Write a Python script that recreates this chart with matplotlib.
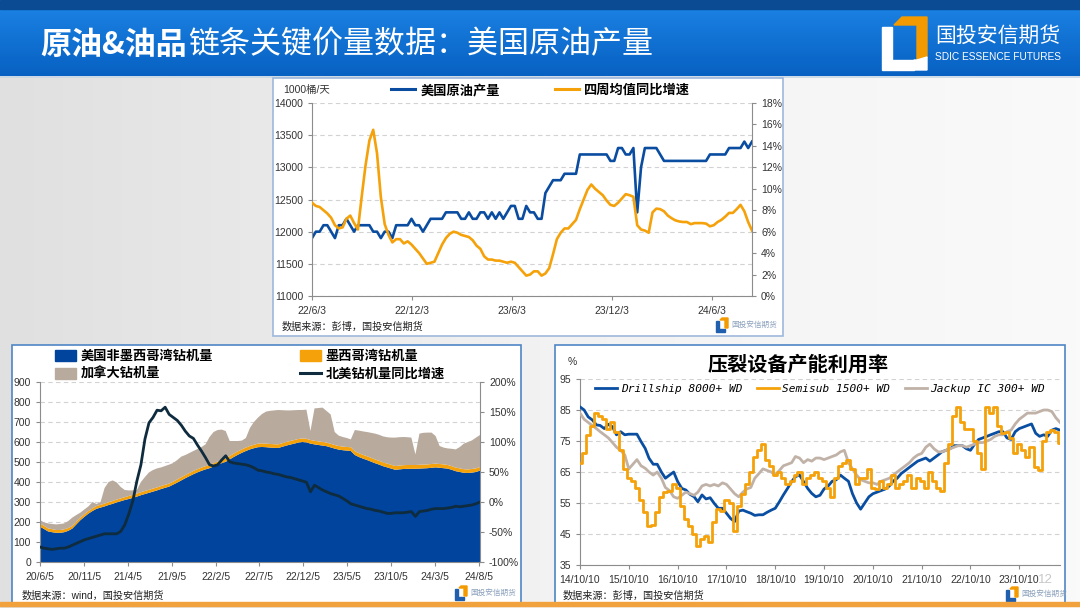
import numpy as np
import pandas as pd
import matplotlib
matplotlib.use("Agg")
import matplotlib.pyplot as plt
from matplotlib.patches import Rectangle, Polygon, Patch
from matplotlib.lines import Line2D
from matplotlib.colors import LinearSegmentedColormap

plt.rcParams['font.family'] = ['Liberation Sans', 'Noto Sans CJK SC', 'DejaVu Sans']
CJK = ['Noto Sans CJK SC', 'DejaVu Sans']

# ---------------- top chart: US crude output (weekly from 2022-06-03) ----------------
prod_start = '2022-06-03'
us_output = [11900,12000,12000,12100,12100,12000,11900,12100,12100,12200,
             12100,12000,12100,12100,12100,12100,12000,12000,11900,12000,
             12000,11900,12100,12100,12100,12100,12200,12100,12100,12000,
             12100,12200,12200,12200,12200,12300,12300,12300,12300,12200,
             12200,12300,12200,12200,12300,12300,12200,12300,12200,12300,
             12200,12300,12400,12400,12200,12200,12400,12300,12300,12200,
             12200,12600,12700,12800,12800,12800,12900,12900,12900,12900,
             13200,13200,13200,13200,13200,13200,13200,13200,13100,13100,
             13300,13300,13200,13200,13300,12300,13000,13300,13300,13300,
             13300,13200,13100,13100,13100,13100,13100,13100,13100,13100,
             13100,13100,13100,13100,13200,13200,13200,13200,13200,13300,
             13300,13300,13300,13400,13300,13400]
output_yoy = [8.7,8.4,8.3,8.0,7.7,7.3,6.6,6.3,6.4,7.2,
              7.5,6.8,6.2,9.3,12.2,14.5,15.5,13.3,9.2,6.7,
              5.7,5.0,5.3,5.3,4.9,5.1,4.8,4.4,4.0,3.5,
              3.0,3.1,3.2,4.0,4.8,5.4,5.8,6.0,5.9,5.7,
              5.6,5.5,5.2,4.7,4.4,3.7,3.4,3.4,3.3,3.3,
              3.2,3.1,3.2,3.1,2.7,2.3,1.9,2.0,2.3,2.3,
              1.9,2.1,2.6,3.9,5.3,5.9,6.3,6.3,6.7,7.1,
              8.1,9.0,9.9,10.4,10.0,9.7,9.4,8.9,8.5,8.4,
              8.7,9.1,9.5,9.4,9.25,6.6,6.2,6.1,5.9,7.8,
              8.15,8.1,7.9,7.5,7.25,7.05,6.95,6.9,6.9,6.7,
              6.8,6.8,6.8,6.75,6.5,6.6,6.9,7.1,7.4,7.75,
              7.75,8.1,8.5,7.9,6.9,6.1]
top_tick_dates = ['2022-06-03', '2022-12-03', '2023-06-03', '2023-12-03', '2024-06-03']
top_tick_labels = ['22/6/3', '22/12/3', '23/6/3', '23/12/3', '24/6/3']

# ---------------- bottom-left: rig counts (every two weeks from 2020-06-05) ----------------
rig_start = '2020-06-05'
us_rigs = [177,165,153,149,146,146,149,156,167,188,
           209,226,242,255,266,272,278,285,291,298,
           304,310,315,321,327,334,340,346,352,358,
           365,371,377,387,397,408,419,429,439,448,
           456,463,469,478,486,494,501,513,525,536,
           546,555,563,569,574,575,574,572,571,570,
           576,582,587,592,597,600,598,592,588,585,
           582,579,573,567,562,559,557,555,535,525,
           517,510,502,494,487,479,473,467,461,463,
           465,466,466,466,467,468,469,471,473,471,
           469,467,461,454,450,446,445,447,450,457]
gom_rigs = [16,16,15,15,14,14,14,14,13,13,
            13,13,13,13,14,14,14,14,14,14,
            14,14,15,15,15,15,15,15,15,15,
            15,15,15,15,16,16,16,16,16,16,
            16,16,16,16,16,17,17,17,17,17,
            17,17,17,17,18,18,18,18,18,18,
            18,18,18,18,18,18,18,18,18,18,
            18,18,18,18,18,18,18,19,19,19,
            19,19,19,19,19,19,19,19,19,19,
            19,19,19,19,19,19,19,19,19,19,
            19,18,18,18,18,18,18,18,18,18]
canada_rigs = [17,17,25,26,28,30,30,35,42,34,
               25,24,23,32,10,14,78,101,103,86,
               57,36,28,22,18,51,70,87,93,95,
               93,94,95,93,97,103,100,100,100,101,
               103,109,140,156,158,151,137,75,63,52,
               44,48,90,114,130,147,160,166,169,172,
               165,158,153,149,145,142,146,45,162,167,
               172,158,147,65,52,48,45,39,106,113,
               117,121,125,129,130,130,132,136,142,142,
               141,139,137,53,156,159,159,157,138,90,
               84,83,87,91,107,128,137,143,154,160]
rig_yoy = [-75,-77,-78,-79,-78,-77,-77,-75,-72,-69,
           -66,-63,-61,-59,-57,-55,-53,-53,-53,-53,
           -49,-38,-20,2,35,62,105,132,141,153,
           152,158,146,141,136,128,118,110,106,95,
           85,74,62,60,62,70,77,67,65,64,
           63,62,60,57,53,52,50,49,47,46,
           44,42,41,39,37,35,33,17,28,24,
           20,17,14,12,10,6,2,-3,-5,-7,
           -9,-11,-12,-14,-15,-17,-19,-19,-18,-18,
           -18,-17,-16,-24,-16,-15,-14,-12,-11,-11,
           -11,-10,-9,-7,-8,-7,-6,-5,-3,0]
rig_tick_dates = ['2020-06-05', '2020-11-05', '2021-04-05', '2021-09-05', '2022-02-05', '2022-07-05',
                  '2022-12-05', '2023-05-05', '2023-10-05', '2024-03-05', '2024-08-05']
rig_tick_labels = ['20/6/5', '20/11/5', '21/4/5', '21/9/5', '22/2/5', '22/7/5',
                   '22/12/5', '23/5/5', '23/10/5', '24/3/5', '24/8/5']

# ---------------- bottom-right: offshore rig utilisation (monthly from 2014-10) ----------------
util_start = '2014-10-01'
drillship = [86,85,82.8,81.8,80.2,80,79,80.4,79.6,77,
             78,77,77.2,77.2,77.2,74.8,72.6,69.4,67.5,67.5,
             65,63,64,65,61.9,59.7,59.2,57.8,57,55.4,
             57.6,56.3,56.7,54.9,53.3,53.3,51.7,50,49,52.4,
             52.7,52.2,51.7,51,51.2,51.2,52,52.7,53.3,55.4,
             57.6,59.7,61.9,63.5,64,61.9,59.7,58.1,57,57.5,
             59.5,60.5,62,62.5,64,63,62,58,55,53,
             55,57,58,58.5,59,59.5,60.5,62,63,64.5,
             65.5,66.5,67.5,68.5,69,69.5,68.5,69.5,70.5,71.5,
             72,72.5,73.5,73.5,73.5,72.5,72,74,75.5,76,
             76.5,77,77.5,78,78,76,75.5,78,79,79.5,
             80,80.5,77.5,76.5,77,76.5,78.5,79,78.5]
semisub = [68,71,77,80,84,83,82,79,81,78,
           72,66,63,62,60,56,52,47.5,48,52,
           57,58.5,59,61,60,54,50,47.5,45,41,
           43.5,44.5,42.5,49,53,52.5,56,55,46,54,
           58,61,65,70,72,74,69,67,64,65,
           63,61,62,64,65,61,63,64,65,63,
           62,60,57,63,67,68,69,66,61,63,
           63,66,60,59.5,62,60,61,64,60,61,
           62,64,60,63,62,60,65,62,60,59,
           68,74,83,86,81,79,79,75,71,66,
           86,84,86,80,77.5,78,76,71,74,72,
           70,73,66.5,65.5,75,78,78.5,78,74.5]
jackup = [84,82,81,80,79,78,77,76,74.5,73,
          72,70.5,66,67.5,69,67,66.2,65,64,65,
          63,60,59,57,56.5,57.5,58.5,58,57.5,58.5,
          60.5,61,60.5,61,60.5,61.5,61,59.5,58,57,
          58.5,59.5,60,63,64.5,66,65.5,65,64,65.5,
          67,67.5,68,70,69.5,68,69,68.5,69.5,69.5,
          69,69.5,70,70.5,71.5,72,68,66,64,62.5,
          62,61.5,61.5,61,62,62.5,63,64,65,66,
          67,68,69.5,70.5,71,73,74,72.5,71.5,71.5,
          72,72.5,73,73.5,73.5,73,73.5,74,74.5,74.5,
          75,75.5,76.5,77,77,78,78.5,80.5,82,83,
          84,84,84,84.5,85,85,84.5,82.5,81]
util_tick_dates = ['2014-10-10', '2015-10-10', '2016-10-10', '2017-10-10', '2018-10-10',
                   '2019-10-10', '2020-10-10', '2021-10-10', '2022-10-10', '2023-10-10']
util_tick_labels = ['14/10/10', '15/10/10', '16/10/10', '17/10/10', '18/10/10',
                    '19/10/10', '20/10/10', '21/10/10', '22/10/10', '23/10/10']

BLUE = '#0a4ca0'
ORANGE = '#f5a10a'
TAN = '#b9aa9e'
DARK = '#0f2b3e'
GRID = '#d2d2d2'

fig = plt.figure(figsize=(10.8, 6.08), dpi=100)

# background canvas in pixel coordinates
bg = fig.add_axes([0, 0, 1, 1])
bg.axis('off')
bgcmap = LinearSegmentedColormap.from_list('bgc', ['#e0e0e0', '#f2f2f2', '#fafafa'])
bg.imshow(np.linspace(0, 1, 256).reshape(1, -1), extent=[0, 1080, 608, 0], aspect='auto', cmap=bgcmap, zorder=0)

# header bar
hdcmap = LinearSegmentedColormap.from_list('hd', ['#1a80e2', '#0761c2'])
bg.imshow(np.linspace(0, 1, 64).reshape(-1, 1), extent=[0, 1080, 76, 9], aspect='auto', cmap=hdcmap, zorder=1)
bg.add_patch(Rectangle((0, 0), 1080, 9, color='#0b4b94', zorder=2))
bg.plot([0, 1080], [77, 77], color='#c9d6e6', lw=1.2, zorder=2)

t1 = bg.text(40, 45, '原油&油品', color='white', fontsize=22.3, fontweight='bold', family=CJK, va='center', zorder=3)
fig.canvas.draw()
bb = t1.get_window_extent()
bg.text(bb.x1 + 1, 45, '链条关键价量数据：美国原油产量', color='white', fontsize=22.3, family=CJK, va='center', zorder=3)

# header logo
bg.add_patch(Polygon([(882, 27), (892, 27), (892, 60), (914, 60), (914, 70), (882, 70)], closed=True, color='white', zorder=3))
bg.add_patch(Polygon([(894, 25), (902, 17), (927, 17), (927, 57), (917, 63), (917, 25)], closed=True, color='#f39a00', zorder=3))
bg.add_patch(Polygon([(917, 60), (927, 57), (927, 70), (914, 70), (914, 60)], closed=True, color='white', zorder=3))
bg.text(935, 36, '国投安信期货', color='white', fontsize=15, family=CJK, va='center', zorder=3)
bg.text(935, 57, 'SDIC ESSENCE FUTURES', color='white', fontsize=7.3, va='center', zorder=3)

# panels
for (x0, y0, x1, y1, ec) in [(273, 78, 783, 336, '#9db8dc'), (12, 345, 521, 603, '#4f86c6'), (555, 345, 1065, 603, '#4f86c6')]:
    bg.add_patch(Rectangle((x0, y0), x1 - x0, y1 - y0, fc='white', ec=ec, lw=1.2, zorder=2))
bg.add_patch(Rectangle((0, 602), 1080, 4, color='#f2a23c', zorder=4))

def small_logo(x, y):
    bg.add_patch(Polygon([(x, y + 3), (x + 3, y + 3), (x + 3, y + 11), (x + 9, y + 11), (x + 9, y + 14), (x, y + 14)],
                         closed=True, color='#1f5fae', zorder=3))
    bg.add_patch(Polygon([(x + 4, y + 2), (x + 6, y), (x + 12, y), (x + 12, y + 10), (x + 9, y + 10), (x + 9, y + 2)],
                         closed=True, color='#f39a00', zorder=3))
    bg.text(x + 15, y + 7, '国投安信期货', color='#8aa0bc', fontsize=5.5, family=CJK, va='center', zorder=3)

small_logo(716, 318)
small_logo(455, 586)
small_logo(1006, 587)

bg.text(282, 327, '数据来源：彭博，国投安信期货', fontsize=7.3, color='#222222', va='center', zorder=3)
bg.text(22, 596, '数据来源：wind，国投安信期货', fontsize=7.3, color='#222222', va='center', zorder=3)
bg.text(563, 596, '数据来源：彭博，国投安信期货', fontsize=7.3, color='#222222', va='center', zorder=3)
bg.text(283, 90, '1000桶/天', fontsize=7.5, color='#333333', va='center', zorder=3)
bg.text(568, 362, '%', fontsize=7.5, color='#333333', va='center', zorder=3)
bg.text(798, 364, '压裂设备产能利用率', fontsize=14.5, fontweight='bold', family=CJK, ha='center', va='center', zorder=3)
bg.text(1038, 580, '12', fontsize=9.5, color='#c8c8c8', va='center', zorder=3)

bg.set_xlim(0, 1080)
bg.set_ylim(608, 0)


def px_rect(x0, y0, x1, y1):
    return [x0 / 1080, 1 - y1 / 608, (x1 - x0) / 1080, (y1 - y0) / 608]


def style_axes(ax):
    ax.set_facecolor('none')
    ax.spines['top'].set_visible(False)
    ax.spines['right'].set_visible(False)
    for s in ['left', 'bottom']:
        ax.spines[s].set_color('#8c8c8c')
    ax.tick_params(labelsize=7.5, colors='#333333', length=3, width=0.8)
    ax.tick_params(axis='both', color='#8c8c8c')
    ax.yaxis.grid(True, ls=(0, (4, 3)), color=GRID, lw=0.8)
    ax.set_axisbelow(True)


# ---------- top chart ----------
ax1 = fig.add_axes(px_rect(312, 103, 752, 296))
style_axes(ax1)
prod_dates = pd.date_range(prod_start, periods=len(us_output), freq='7D')
ax1.plot(prod_dates, us_output, color=BLUE, lw=1.9)
ax1.set_ylim(11000, 14000)
ax1.set_yticks(range(11000, 14001, 500))
ax1.set_xlim(prod_dates[0], prod_dates[-1])
ax1.set_xticks(pd.to_datetime(top_tick_dates))
ax1.set_xticklabels(top_tick_labels)
ax1.tick_params(axis='x', pad=4)
ax1b = ax1.twinx()
ax1b.plot(prod_dates, output_yoy, color=ORANGE, lw=1.9)
ax1b.set_ylim(0, 18)
ax1b.set_yticks(range(0, 19, 2))
ax1b.set_yticklabels([f'{v}%' for v in range(0, 19, 2)])
for s in ['top', 'left', 'bottom']:
    ax1b.spines[s].set_visible(False)
ax1b.spines['right'].set_color('#8c8c8c')
ax1b.tick_params(labelsize=7.5, colors='#333333', color='#8c8c8c', length=3)
ax1b.set_xlim(prod_dates[0], prod_dates[-1])
ax1.legend([Line2D([], [], color=BLUE, lw=2.2), Line2D([], [], color=ORANGE, lw=2.2)],
           ['美国原油产量', '四周均值同比增速'], ncol=2, loc='center', bbox_to_anchor=(0.52, 1.067),
           frameon=False, handlelength=1.8, handletextpad=0.4, columnspacing=4.2,
           prop={'family': CJK, 'weight': 'bold', 'size': 9.5, 'style': 'italic'})

# ---------- bottom-left chart ----------
ax2 = fig.add_axes(px_rect(40, 382, 480, 562))
style_axes(ax2)
rig_dates = pd.date_range(rig_start, periods=len(us_rigs), freq='14D')
ax2.stackplot(rig_dates, us_rigs, gom_rigs, canada_rigs, colors=['#00449d', ORANGE, TAN], lw=0)
ax2.set_ylim(0, 900)
ax2.set_yticks(range(0, 901, 100))
ax2.set_xlim(rig_dates[0], rig_dates[-1])
ax2.set_xticks(pd.to_datetime(rig_tick_dates))
ax2.set_xticklabels(rig_tick_labels)
ax2.tick_params(axis='x', pad=4)
ax2b = ax2.twinx()
ax2b.plot(rig_dates, rig_yoy, color=DARK, lw=2)
ax2b.set_ylim(-100, 200)
ax2b.set_yticks(range(-100, 201, 50))
ax2b.set_yticklabels([f'{v}%' for v in range(-100, 201, 50)])
for s in ['top', 'left', 'bottom']:
    ax2b.spines[s].set_visible(False)
ax2b.spines['right'].set_color('#8c8c8c')
ax2b.tick_params(labelsize=7.5, colors='#333333', color='#8c8c8c', length=3)
ax2b.set_xlim(rig_dates[0], rig_dates[-1])
ax2.legend([Patch(color='#00449d'), Patch(color=TAN), Patch(color=ORANGE), Line2D([], [], color=DARK, lw=2.2)],
           ['美国非墨西哥湾钻机量', '加拿大钻机量', '墨西哥湾钻机量', '北美钻机量同比增速'],
           ncol=2, loc='center', bbox_to_anchor=(0.477, 1.094), frameon=False,
           handlelength=1.6, handleheight=0.8, handletextpad=0.35, columnspacing=6.6, labelspacing=0.3,
           prop={'family': CJK, 'weight': 'bold', 'size': 9.5, 'style': 'italic'})

# ---------- bottom-right chart ----------
ax3 = fig.add_axes(px_rect(580, 379, 1060, 565))
style_axes(ax3)
util_dates = pd.date_range(util_start, periods=len(drillship), freq='MS') + pd.Timedelta(days=9)
ax3.plot(util_dates, drillship, color='#0a4ea2', lw=2, label='Drillship 8000+ WD', zorder=3)
ax3.plot(util_dates, jackup, color='#c1b2a8', lw=2, label='Jackup IC 300+ WD', zorder=4)
ax3.plot(util_dates, semisub, color=ORANGE, lw=2, label='Semisub 1500+ WD', drawstyle='steps-mid', zorder=5)
ax3.set_ylim(35, 95)
ax3.set_yticks(range(35, 96, 10))
ax3.set_xlim(util_dates[0], util_dates[-1])
ax3.set_xticks(pd.to_datetime(util_tick_dates))
ax3.set_xticklabels(util_tick_labels)
ax3.tick_params(axis='x', pad=4)
h, l = ax3.get_legend_handles_labels()
order = [0, 2, 1]
ax3.legend([h[i] for i in order], [l[i] for i in order], ncol=3, loc='center', bbox_to_anchor=(0.5, 0.946),
           frameon=False, handlelength=2.0, handletextpad=0.3, columnspacing=1.3,
           prop={'family': 'DejaVu Sans Mono', 'style': 'italic', 'size': 8})

fig.savefig('out.png', dpi=100)
